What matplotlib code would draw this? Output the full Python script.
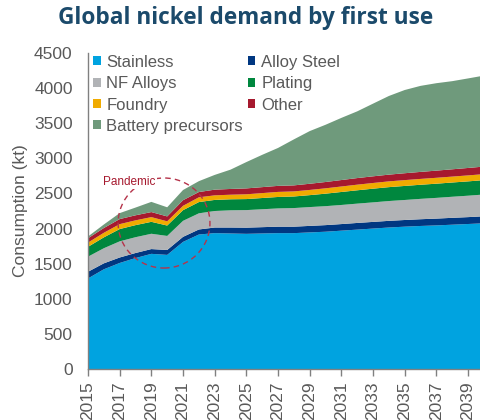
import matplotlib
matplotlib.use("Agg")
import matplotlib.pyplot as plt
from matplotlib.patches import Ellipse, Patch

years = list(range(2015, 2041))

stainless = [1290, 1420, 1510, 1580, 1640, 1625, 1810, 1915, 1935, 1930,
             1925, 1930, 1935, 1935, 1945, 1955, 1970, 1985, 2000, 2015,
             2027, 2037, 2045, 2055, 2065, 2075]
alloy_steel = [95, 85, 78, 72, 68, 70, 72, 72, 80, 85,
               88, 90, 92, 92, 93, 94, 94, 95, 95, 95,
               95, 96, 97, 98, 98, 100]
nf_alloys = [215, 215, 230, 225, 218, 200, 228, 230, 235, 245,
             250, 255, 260, 265, 268, 270, 272, 275, 278, 282,
             285, 290, 295, 300, 305, 310]
plating = [140, 155, 175, 172, 170, 148, 152, 160, 158, 157,
           157, 160, 163, 165, 170, 178, 185, 190, 195, 198,
           200, 201, 202, 203, 204, 205]
foundry = [60, 65, 70, 68, 67, 60, 62, 68, 65, 65,
           68, 70, 72, 72, 74, 76, 78, 80, 81, 82,
           83, 83, 84, 84, 85, 85]
other = [62, 68, 72, 72, 72, 70, 80, 75, 81, 82,
         84, 85, 86, 86, 88, 90, 92, 94, 95, 96,
         98, 100, 102, 104, 106, 108]
battery = [25, 50, 85, 110, 145, 130, 145, 155, 210, 275,
           375, 460, 540, 655, 750, 815, 885, 950, 1035, 1120,
           1185, 1225, 1245, 1255, 1275, 1295]

names = ["Stainless", "Alloy Steel", "NF Alloys", "Plating", "Foundry", "Other", "Battery precursors"]
colors = ["#00a3e0", "#003781", "#b1b3b6", "#00873e", "#f0ab00", "#a6192e", "#6f9a7c"]
xticks = list(range(2015, 2040, 2))

plt.rcParams["font.family"] = ["Liberation Sans", "DejaVu Sans"]
grey = "#595959"

fig = plt.figure(figsize=(4.81, 4.20), dpi=100)
ax = fig.add_axes([0.183, 0.1214, 0.823, 0.7524])

ax.stackplot(years, stainless, alloy_steel, nf_alloys, plating, foundry, other, battery,
             colors=colors, linewidth=0)

ax.set_xlim(2015, 2040)
ax.set_ylim(0, 4500)
ax.set_yticks(range(0, 4501, 500))
ax.set_xticks(xticks)
ax.set_xticklabels([str(y) for y in xticks], rotation=90)
ax.tick_params(axis="y", length=0, pad=11, labelsize=12.5, labelcolor=grey)
ax.tick_params(axis="x", length=5, width=1, color="#808080", pad=4, labelsize=12.5, labelcolor=grey)
for s in ["top", "right"]:
    ax.spines[s].set_visible(False)
for s in ["left", "bottom"]:
    ax.spines[s].set_color("#808080")
    ax.spines[s].set_linewidth(1)
ax.set_ylabel("Consumption (kt)", fontsize=12.5, color=grey, labelpad=4)

# pandemic marker
ax.add_patch(Ellipse((2019.8, 2079), 5.8, 1282, fill=False, edgecolor="#b5334a",
                     linestyle=(0, (4, 3)), linewidth=1, zorder=5))
ax.text(2015.95, 2670, "Pandemic", color="#a6192e", fontsize=8.5, ha="left", va="center",
        zorder=6, bbox=dict(facecolor="white", edgecolor="none", pad=1))

# legend, row-major order like the original
order = [0, 2, 4, 6, 1, 3, 5]
handles = [Patch(facecolor=colors[i], edgecolor="none") for i in order]
labels = [names[i] for i in order]
ax.legend(handles, labels, ncol=2, loc="upper left", bbox_to_anchor=(0.0, 1.01),
          frameon=False, fontsize=12, labelcolor=grey, handlelength=0.45, handleheight=0.45,
          handletextpad=0.35, columnspacing=0.3, labelspacing=0.38, borderpad=0.1,
          borderaxespad=0.2)

fig.text(0.51, 0.957, "Global nickel demand by first use", ha="center", va="center",
         fontsize=16.3, fontweight="bold", color="#1b4a6b", family="Open Sans")

fig.savefig("out.png", dpi=100)
